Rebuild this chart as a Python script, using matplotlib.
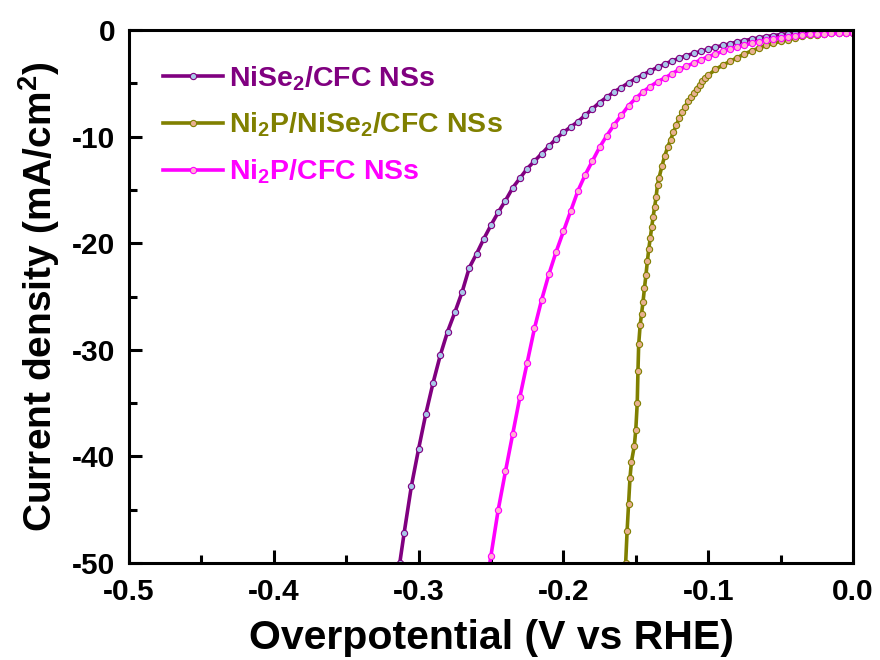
import matplotlib
matplotlib.use("Agg")
import matplotlib.pyplot as plt
from matplotlib.ticker import MultipleLocator

plt.rcParams["font.family"] = ["Liberation Sans", "DejaVu Sans"]
plt.rcParams["font.weight"] = "bold"
plt.rcParams["axes.unicode_minus"] = False
plt.rcParams["mathtext.fontset"] = "custom"
plt.rcParams["mathtext.rm"] = "Liberation Sans:bold"
plt.rcParams["mathtext.bf"] = "Liberation Sans:bold"
plt.rcParams["mathtext.default"] = "bf"

# NiSe2/CFC NSs
v_nise2 = [-0.315, -0.313, -0.310, -0.305, -0.300, -0.295, -0.290, -0.285, -0.280, -0.275,
           -0.270, -0.265, -0.260, -0.255, -0.250, -0.245, -0.240, -0.235, -0.230, -0.225,
           -0.220, -0.215, -0.210, -0.205, -0.200, -0.195, -0.190, -0.185, -0.180, -0.175,
           -0.170, -0.165, -0.160, -0.155, -0.150, -0.145, -0.140, -0.135, -0.130, -0.125,
           -0.120, -0.115, -0.110, -0.105, -0.100, -0.095, -0.090, -0.085, -0.080, -0.075,
           -0.070, -0.065, -0.060, -0.055, -0.050, -0.045, -0.040, -0.035, -0.030, -0.025,
           -0.020, -0.015, -0.010, -0.005, 0.000]
j_nise2 = [-52.0, -50.0, -47.2, -42.8, -39.3, -36.0, -33.1, -30.5, -28.3, -26.5,
           -24.6, -22.3, -21.0, -19.6, -18.3, -17.1, -16.0, -14.8, -13.9, -13.0,
           -12.3, -11.6, -10.9, -10.2, -9.6, -9.1, -8.6, -8.0, -7.4, -6.8,
           -6.3, -5.8, -5.4, -4.95, -4.55, -4.2, -3.85, -3.5, -3.2, -2.9,
           -2.65, -2.4, -2.2, -2.0, -1.8, -1.6, -1.45, -1.3, -1.12, -1.0,
           -0.85, -0.73, -0.62, -0.52, -0.43, -0.36, -0.30, -0.24, -0.20, -0.17,
           -0.14, -0.12, -0.10, -0.08, -0.07]

# Ni2P/NiSe2/CFC NSs
v_hybrid = [-0.158, -0.157, -0.156, -0.155, -0.154, -0.153, -0.151, -0.150, -0.149, -0.1485,
            -0.148, -0.147, -0.146, -0.145, -0.144, -0.143, -0.142, -0.141, -0.140, -0.139,
            -0.138, -0.137, -0.136, -0.135, -0.134, -0.132, -0.130, -0.128, -0.126, -0.124,
            -0.122, -0.120, -0.118, -0.116, -0.114, -0.112, -0.110, -0.108, -0.106, -0.104,
            -0.102, -0.100, -0.095, -0.090, -0.085, -0.080, -0.075, -0.070, -0.065, -0.060,
            -0.055, -0.050, -0.045, -0.040, -0.035, -0.030, -0.025, -0.020, -0.015, -0.010,
            -0.005, 0.000]
j_hybrid = [-51.0, -50.0, -47.0, -44.5, -42.0, -40.5, -39.0, -37.5, -35.0, -32.0,
            -29.5, -27.7, -26.6, -25.5, -24.2, -23.0, -21.7, -20.5, -19.5, -18.5,
            -17.5, -16.6, -15.7, -14.5, -13.9, -12.8, -11.8, -11.0, -10.3, -9.6,
            -8.9, -8.3, -7.7, -7.2, -6.7, -6.3, -5.9, -5.5, -5.15, -4.8,
            -4.5, -4.25, -3.7, -3.3, -2.95, -2.6, -2.25, -1.95, -1.7, -1.45,
            -1.25, -1.07, -0.9, -0.75, -0.6, -0.5, -0.42, -0.36, -0.32, -0.30,
            -0.29, -0.28]

# Ni2P/CFC NSs
v_ni2p = [-0.252, -0.250, -0.245, -0.240, -0.235, -0.230, -0.225, -0.220, -0.215, -0.210,
          -0.205, -0.200, -0.195, -0.190, -0.185, -0.180, -0.175, -0.170, -0.165, -0.160,
          -0.155, -0.150, -0.145, -0.140, -0.135, -0.130, -0.125, -0.120, -0.115, -0.110,
          -0.105, -0.100, -0.095, -0.090, -0.085, -0.080, -0.075, -0.070, -0.065, -0.060,
          -0.055, -0.050, -0.045, -0.040, -0.035, -0.030, -0.025, -0.020, -0.015, -0.010,
          -0.005, 0.000]
j_ni2p = [-51.0, -49.3, -45.0, -41.4, -37.9, -34.4, -31.2, -28.0, -25.3, -22.9,
          -20.8, -18.9, -17.0, -15.1, -13.6, -12.3, -11.0, -9.9, -8.9, -8.0,
          -7.1, -6.4, -5.8, -5.3, -4.85, -4.5, -4.1, -3.7, -3.4, -3.1,
          -2.8, -2.5, -2.25, -2.0, -1.78, -1.6, -1.42, -1.25, -1.1, -0.96,
          -0.84, -0.72, -0.62, -0.53, -0.46, -0.41, -0.37, -0.34, -0.32, -0.31,
          -0.30, -0.30]

labels = [r"NiSe$_2$/CFC NSs", r"Ni$_2$P/NiSe$_2$/CFC NSs", r"Ni$_2$P/CFC NSs"]
colors = ["#800080", "#808000", "#ff00ff"]
faces = ["#a8c8e8", "#e8b090", "#ffb0d0"]

fig = plt.figure(figsize=(8.8, 6.6), dpi=100)
ax = fig.add_axes([0.1466, 0.147, 0.8227, 0.8075])

for v, j, lab, c, f in zip([v_nise2, v_hybrid, v_ni2p], [j_nise2, j_hybrid, j_ni2p],
                           labels, colors, faces):
    ax.plot(v, j, color=c, lw=2.6, marker="o", ms=4.5, mfc=f, mec=c, mew=0.8, label=lab)

ax.set_xlim(-0.5, 0.0)
ax.set_ylim(-50, 0)
ax.xaxis.set_major_locator(MultipleLocator(0.1))
ax.xaxis.set_minor_locator(MultipleLocator(0.05))
ax.yaxis.set_major_locator(MultipleLocator(10))
ax.yaxis.set_minor_locator(MultipleLocator(5))
ax.tick_params(which="both", direction="in", width=2.2, labelsize=21.5)
ax.tick_params(which="major", length=9.5)
ax.tick_params(which="minor", length=6)
ax.tick_params(axis="x", pad=11)
ax.tick_params(axis="y", pad=10)
for s in ax.spines.values():
    s.set_linewidth(2.2)

ax.set_xlabel("Overpotential (V vs RHE)", fontsize=29.5, fontweight="bold", labelpad=9)
ax.set_ylabel("Current density (mA/cm$^2$)", fontsize=28, fontweight="bold", labelpad=7)

ax.legend(loc="upper left", bbox_to_anchor=(0.047, 0.936), frameon=False, fontsize=20.5,
          numpoints=1, labelcolor="linecolor", handlelength=2.1, handletextpad=0.2,
          labelspacing=0.64, borderpad=0, borderaxespad=0)

fig.savefig("out.png", dpi=100)
